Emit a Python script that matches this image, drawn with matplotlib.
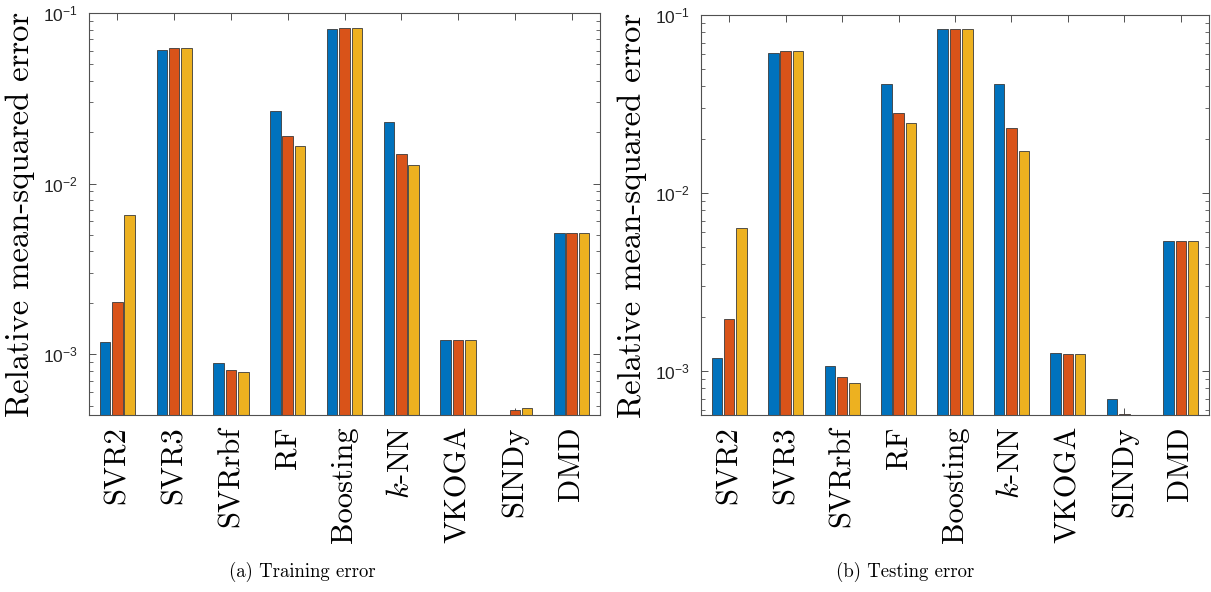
# grouped bar charts of relative MSE per method, training vs testing, log scale

import matplotlib.pyplot as plt
import numpy as np
from matplotlib.ticker import LogLocator, NullFormatter

plt.rcParams['mathtext.fontset'] = 'cm'
plt.rcParams['axes.unicode_minus'] = True

methods = ['SVR2', 'SVR3', 'SVRrbf', 'RF', 'Boosting', '$k$-NN', 'VKOGA', 'SINDy', 'DMD']

# three runs per method (blue, orange, yellow)
train_1 = [1.175e-3, 0.0604, 8.9e-4, 0.0267, 0.081, 0.023, 1.21e-3, np.nan, 5.13e-3]
train_2 = [2.02e-3, 0.062, 8.1e-4, 0.019, 0.082, 0.0149, 1.21e-3, 4.70e-4, 5.13e-3]
train_3 = [6.55e-3, 0.062, 7.86e-4, 0.0165, 0.082, 0.0129, 1.205e-3, 4.84e-4, 5.13e-3]

test_1 = [1.18e-3, 0.0610, 1.07e-3, 0.041, 0.0838, 0.041, 1.256e-3, 6.93e-4, 5.40e-3]
test_2 = [1.96e-3, 0.0625, 9.2e-4, 0.0283, 0.0838, 0.0233, 1.25e-3, 5.72e-4, 5.40e-3]
test_3 = [6.34e-3, 0.0626, 8.5e-4, 0.0247, 0.0838, 0.0172, 1.24e-3, 5.68e-4, 5.40e-3]

colours = ['#0072BD', '#D95319', '#EDB120']
axcol = '#505050'

fig = plt.figure(figsize=(12.11, 5.92), dpi=100)
ax1 = fig.add_axes([89/1211, 1-415/592, 511/1211, 402/592])
ax2 = fig.add_axes([701/1211, 1-415/592, 508/1211, 400/592])


def draw(ax, series, ylo):
    x = np.arange(1, len(methods)+1)
    for i, vals in enumerate(series):
        ax.bar(x + (i-1)*0.218, vals, width=0.186, bottom=1e-6, color=colours[i],
               edgecolor='#3a3a3a', linewidth=0.6, zorder=2)
    ax.set_yscale('log')
    ax.set_ylim(ylo, 0.1)
    ax.set_xlim(0.5, 9.5)
    ax.set_xticks(x)
    ax.set_xticklabels(methods, rotation=90, fontfamily='cmr10', fontsize=22)
    ax.yaxis.set_major_locator(LogLocator(base=10, numticks=10))
    ax.yaxis.set_minor_locator(LogLocator(base=10, subs=np.arange(2, 10), numticks=10))
    ax.yaxis.set_minor_formatter(NullFormatter())
    ax.tick_params(which='both', direction='in', top=True, right=True, color=axcol, zorder=5)
    ax.tick_params(axis='x', length=5, width=0.7, pad=8)
    ax.tick_params(axis='y', which='major', length=5, width=0.7, labelsize=12.5, pad=8,
                   labelfontfamily='Liberation Sans', labelcolor='#222222')
    ax.tick_params(axis='y', which='minor', length=3, width=0.6)
    for s in ax.spines.values():
        s.set_color(axcol)
        s.set_linewidth(0.8)
        s.set_zorder(5)
    ax.set_ylabel('Relative mean-squared error', fontfamily='cmr10', fontsize=23.5, labelpad=6)


draw(ax1, [train_1, train_2, train_3], 4.4e-4)
draw(ax2, [test_1, test_2, test_3], 5.66e-4)

fig.text(302/1211, 1-572/592, '(a) Training error', fontfamily='cmr10', fontsize=13.5,
         ha='center', va='center')
fig.text(905/1211, 1-572/592, '(b) Testing error', fontfamily='cmr10', fontsize=13.5,
         ha='center', va='center')

plt.savefig('out.png', dpi=100)
